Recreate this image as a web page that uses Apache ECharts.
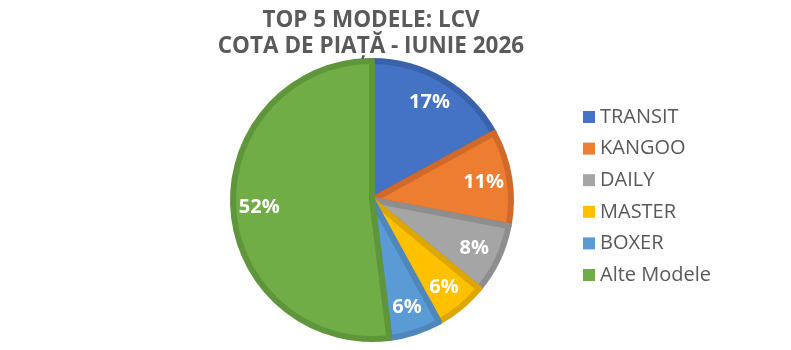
<!DOCTYPE html>
<html>
<head>
<meta charset="utf-8">
<script src="https://cdn.jsdelivr.net/npm/echarts@6/dist/echarts.min.js"></script>
<style>
  html, body { margin: 0; padding: 0; background: #fff; }
  #chart { width: 791px; height: 350px; }
</style>
</head>
<body>
<div id="chart"></div>
<script>
const models = ['TRANSIT', 'KANGOO', 'DAILY', 'MASTER', 'BOXER', 'Alte Modele'];
const shares = [17, 11, 8, 6, 6, 52];
const colors = ['#4472C4', '#ED7D31', '#A5A5A5', '#FFC000', '#5B9BD5', '#70AD47'];
const borders = ['#3A62AA', '#D0692A', '#8E8E8E', '#DDA600', '#4E87BB', '#60963B'];

const chart = echarts.init(document.getElementById('chart'));

const pieData = models.map((name, i) => ({
    name: name,
    value: shares[i],
    itemStyle: { color: colors[i], borderColor: borders[i] }
}));

const center = [372, 200];

const option = {
    animation: false,
    title: {
        text: 'TOP 5 MODELE: LCV\nCOTA DE PIAȚĂ - IUNIE 2026',
        left: 366,
        top: 3,
        textAlign: 'center',
        textStyle: {
            fontFamily: 'Open Sans',
            fontSize: 22.5,
            fontWeight: 'bold',
            color: '#5a5a5a',
            lineHeight: 26
        }
    },
    legend: {
        orient: 'vertical',
        left: 578,
        top: 102,
        icon: 'rect',
        itemWidth: 12,
        itemHeight: 12,
        itemGap: 11.6,
        itemStyle: { borderWidth: 0 },
        data: models,
        textStyle: {
            fontFamily: 'Open Sans',
            fontSize: 20,
            color: '#595959',
            lineHeight: 20
        }
    },
    series: [
        {
            type: 'pie',
            center: center,
            radius: [0, 139],
            startAngle: 90,
            clockwise: true,
            silent: true,
            data: pieData,
            itemStyle: { borderWidth: 6 },
            label: { show: false },
            labelLine: { show: false }
        },
        {
            // transparent ring used only to place the labels further out
            type: 'pie',
            center: center,
            radius: [80, 140],
            startAngle: 90,
            clockwise: true,
            silent: true,
            legendHoverLink: false,
            data: models.map((name, i) => ({
                name: name,
                value: shares[i],
                itemStyle: { color: 'rgba(0,0,0,0)' }
            })),
            label: {
                show: true,
                position: 'inside',
                formatter: '{c}%',
                fontFamily: 'Open Sans',
                fontSize: 20,
                fontWeight: 'bold',
                color: '#fff'
            },
            labelLine: { show: false }
        }
    ]
};

chart.setOption(option);
</script>
</body>
</html>
